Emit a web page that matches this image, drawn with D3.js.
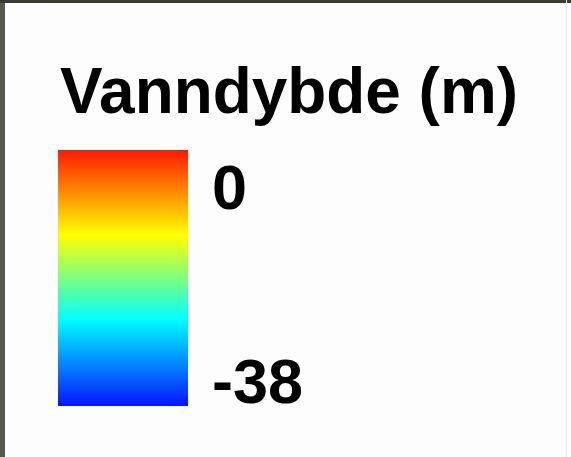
<!DOCTYPE html>
<html>
<head>
<meta charset="utf-8">
<script src="https://cdn.jsdelivr.net/npm/d3@7"></script>
<style>
  html, body { margin: 0; padding: 0; background: #fff; }
  svg { display: block; }
  text { font-family: "Liberation Sans", Arial, sans-serif; font-weight: bold; fill: #000; }
</style>
</head>
<body>
<svg id="chart" width="571" height="457"></svg>
<script>
// legend data
const title = "Vanndybde (m)";
const depthDomain = [0, -38];
const tickValues = [0, -38];
const stopOffsets = [0, 0.33, 0.66, 1];
const stopColors = ["#ff1a00", "#ffff00", "#00ffff", "#0a14ff"];

const W = 571, H = 457;
const svg = d3.select('#chart');

// photo strip bleeding in at left / top edge
svg.append('rect').attr('x', 0).attr('y', 0).attr('width', W).attr('height', H).attr('fill', '#fdfdfd');
svg.append('rect').attr('x', 0).attr('y', 0).attr('width', 5).attr('height', H).attr('fill', '#55584a');
svg.append('rect').attr('x', 0).attr('y', 0).attr('width', W).attr('height', 3).attr('fill', '#3a3a32');
svg.append('rect').attr('x', 566).attr('y', 0).attr('width', 1).attr('height', H).attr('fill', '#ececec');

const bar = {x: 58, w: 130};
const y = d3.scaleLinear().domain(depthDomain).range([150, 406]);

const defs = svg.append('defs');
const grad = defs.append('linearGradient')
    .attr('id', 'depth-grad')
    .attr('x1', 0).attr('y1', 0).attr('x2', 0).attr('y2', 1);
grad.selectAll('stop')
    .data(stopOffsets)
    .join('stop')
    .attr('offset', d => d)
    .attr('stop-color', (d, i) => stopColors[i]);

svg.append('rect')
    .attr('x', bar.x)
    .attr('y', y(depthDomain[0]))
    .attr('width', bar.w)
    .attr('height', y(depthDomain[1]) - y(depthDomain[0]))
    .attr('fill', 'url(#depth-grad)');

svg.append('text')
    .attr('x', 60)
    .attr('y', 113)
    .attr('font-size', 64)
    .attr('textLength', 458)
    .attr('lengthAdjust', 'spacingAndGlyphs')
    .text(title);

// labels: top one hangs under the bar top, bottom one sits on the bar bottom
svg.selectAll('.tick-label')
    .data(tickValues)
    .join('text')
    .attr('class', 'tick-label')
    .attr('x', 212)
    .attr('y', d => d === depthDomain[0] ? y(d) + 59 : y(d) - 3)
    .attr('font-size', 63)
    .text(d => d);
</script>
</body>
</html>
